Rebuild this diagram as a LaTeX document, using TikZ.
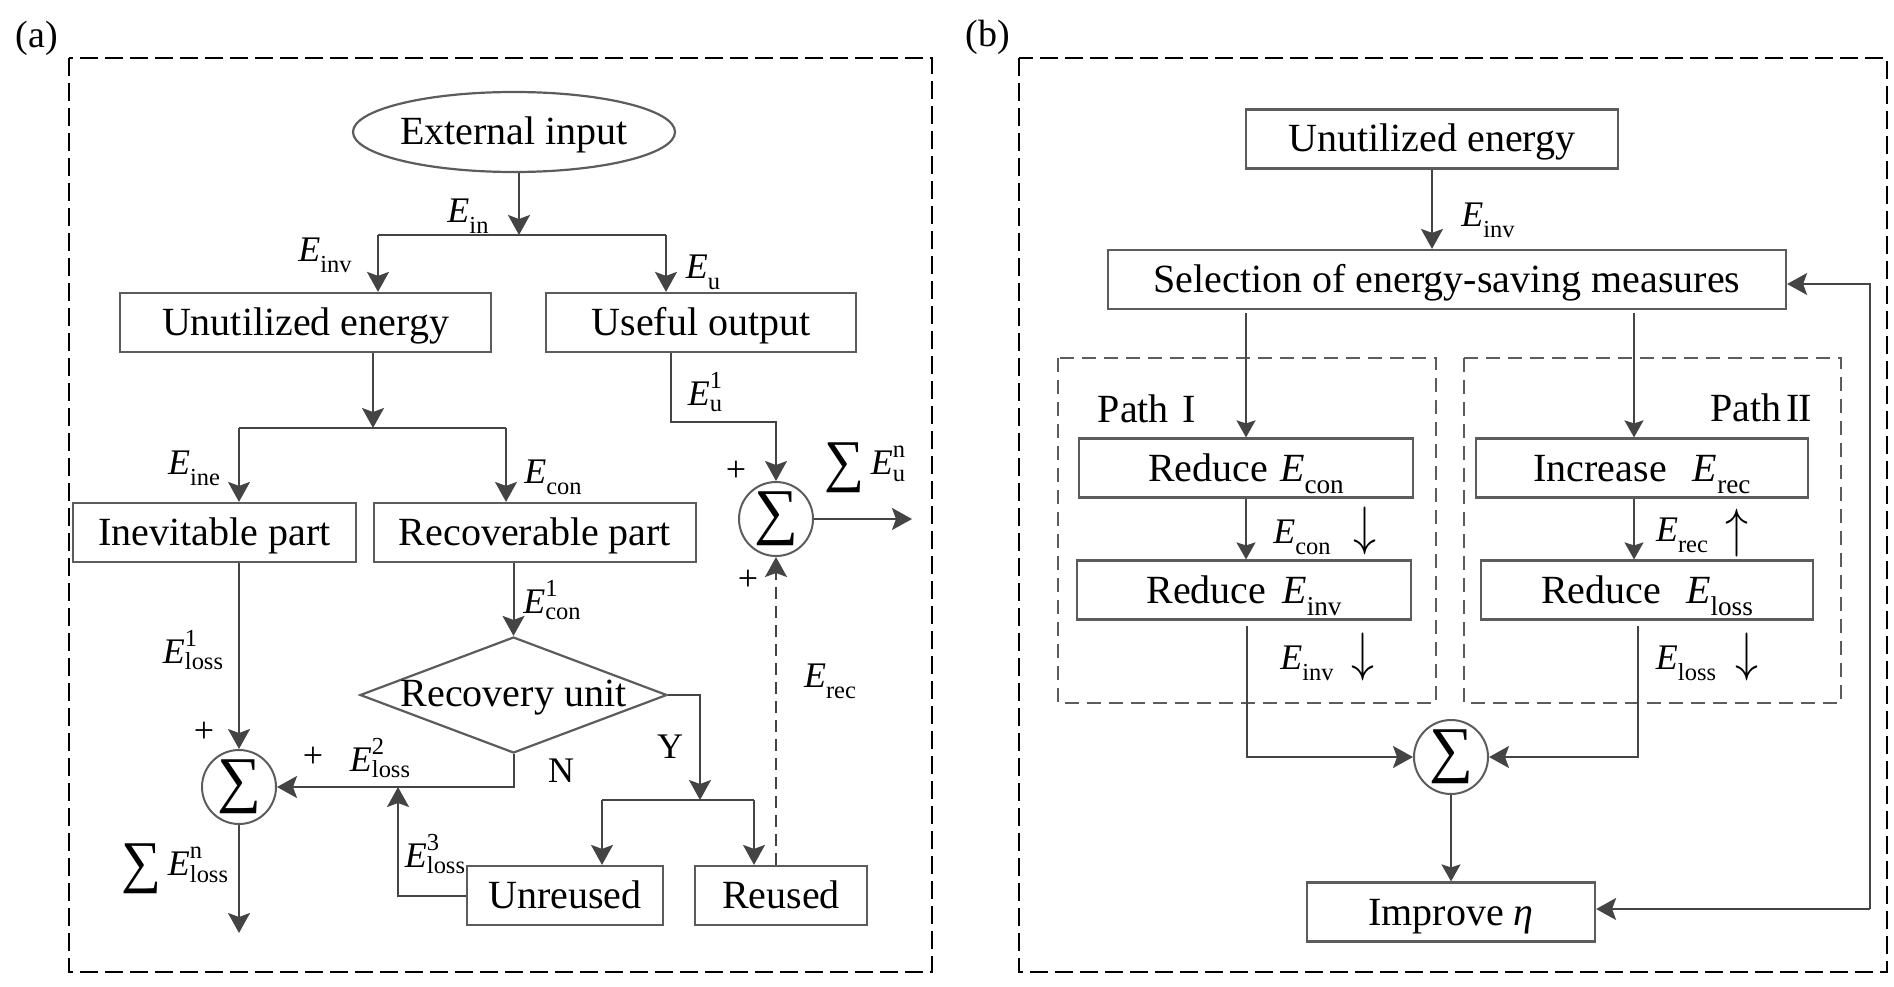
\documentclass[tikz,border=0pt]{standalone}
\usepackage{fontspec}
\setmainfont{Liberation Serif}
\usepackage{graphicx}
\usetikzlibrary{shapes.geometric,arrows.meta}

\definecolor{wirec}{HTML}{444444}
\definecolor{framec}{HTML}{5C5C5C}

\makeatletter
% script size: 0.68 of the current font size
\newcommand{\subsz}{\@tempdima=\f@size pt\@tempdima=0.68\@tempdima
  \fontsize{\strip@pt\@tempdima}{\strip@pt\@tempdima}\selectfont}
\makeatother
% E with a subscript, and E with a subscript and a superscript
\newcommand{\Es}[1]{\textit{E}\raisebox{-0.3em}{\subsz #1}}
\newcommand{\Ess}[2]{\textit{E}\rlap{\raisebox{0.48em}{\subsz #2}}\raisebox{-0.18em}{\subsz #1}}
% summation sign of a given width and total height
\newcommand{\bsum}[2]{\resizebox*{#1}{#2}{∑}}
\newcommand{\boxfont}{\fontsize{40}{46}\selectfont}
\newcommand{\labfont}{\fontsize{36}{40}\selectfont}
\newcommand{\darr}{\scalebox{4.6}[5.4]{\fontsize{10}{12}\selectfont$\downarrow$}}
\newcommand{\uarr}{\scalebox{4.6}[5.4]{\fontsize{10}{12}\selectfont$\uparrow$}}

\tikzset{
  box/.style={draw=framec, line width=2.2pt, rectangle, minimum height=59pt,
    inner sep=0pt, text height=30pt, text depth=4pt, font=\boxfont},
  oval/.style={ellipse, draw=framec, line width=2.2pt, minimum width=320pt,
    minimum height=80pt, inner sep=0pt, text height=30pt, text depth=4pt, font=\boxfont},
  decision/.style={diamond, draw=framec, line width=2.2pt, aspect=2.65,
    minimum width=307pt, minimum height=116pt, inner sep=0pt,
    text height=24pt, text depth=2pt, font=\boxfont},
  adder/.style={circle, draw=framec, line width=2pt, minimum size=74pt, inner sep=0pt},
  lab/.style={inner sep=0pt, font=\labfont},
  wire/.style={draw=wirec, line width=2pt},
  flow/.style={wire, -{Stealth[length=20pt,width=22pt,inset=4pt]}},
  flowsm/.style={wire, -{Stealth[length=17pt,width=19pt,inset=3pt]}},
  panel/.style={draw=black, line width=2.5pt, dash pattern=on 18pt off 7pt},
  pathbox/.style={draw=framec, line width=2pt, dash pattern=on 14pt off 8pt},
}

\begin{document}
\begin{tikzpicture}[x=1pt,y=-1pt]
\useasboundingbox (0,0) rectangle (1894,987);

% ---------------- panel (a): energy flow ----------------
\node[lab, font=\fontsize{38}{40}\selectfont] (la) at (37,38) {(a)};
\draw[panel] (69,58) rectangle (932,972);

\node[oval] (ext) at (514,132) {External input};
\node[box, minimum width=371pt] (ue) at (305.5,322.5) {Unutilized energy};
\node[box, minimum width=310pt] (uo) at (701,322.5) {Useful output};
\node[box, minimum width=283pt] (inev) at (214.5,532.5) {Inevitable part};
\node[box, minimum width=322pt] (recov) at (535,532.5) {Recoverable part};
\node[decision] (ru) at (513.5,695) {Recovery unit};
\node[adder] (sl) at (239,787) {\bsum{44pt}{54pt}};
\node[adder] (sr) at (776,519) {\bsum{44pt}{54pt}};
\node[box, minimum width=196pt] (unre) at (565,895.5) {Unreused};
\node[box, minimum width=172pt] (reus) at (781,895.5) {Reused};

% split of the input
\coordinate (s1) at (519,235);
\coordinate (s1l) at (378,235);
\coordinate (s1r) at (666,235);
\draw[flow] (ext.south -| s1) -- (s1);
\draw[wire] (s1l) -- (s1r);
\draw[flow] (s1l) -- (s1l |- ue.north);
\draw[flow] (s1r) -- (s1r |- uo.north);

% split of the unutilized energy
\coordinate (s2) at (373,428);
\coordinate (s2l) at (239,428);
\coordinate (s2r) at (506,428);
\draw[flow] (ue.south -| s2) -- (s2);
\draw[wire] (s2l) -- (s2r);
\draw[flow] (s2l) -- (s2l |- inev.north);
\draw[flow] (s2r) -- (s2r |- recov.north);

% useful output to the right adder
\coordinate (uok) at (671,422);
\draw[flow] (uo.south -| uok) -- (uok) -| (sr.north);
\coordinate (sout) at (912,519);
\draw[flow] (sr.east) -- (sout);
\draw[flow, dash pattern=on 12pt off 7pt] (reus.north -| sr) -- (sr.south);

% losses to the left adder
\draw[flow] (inev.south -| sl) -- (sl.north);
\coordinate (slout) at (239,933);
\draw[flow] (sl.south) -- (slout);
\draw[flow] (recov.south -| ru) -- (ru.north);
\draw[flow] (ru.south) |- (sl.east);

% recovery branch
\coordinate (yk) at (700,800);
\draw[flow] (ru.east) -| (yk);
\coordinate (s3l) at (602,800);
\coordinate (s3r) at (754,800);
\draw[wire] (s3l) -- (s3r);
\draw[flow] (s3l) -- (s3l |- unre.north);
\draw[flow] (s3r) -- (s3r |- reus.north);
\coordinate (l3) at (398,787);
\draw[flow] (unre.west) -| (l3);

% labels
\node[lab] (tEin) at (468,216) {\Es{in}};
\node[lab] (tEinv) at (325,255) {\Es{inv}};
\node[lab] (tEu) at (703,272) {\Es{u}};
\node[lab] (tEu1) at (705,392) {\Ess{u}{1}};
\node[lab] (tEine) at (194,468) {\Es{ine}};
\node[lab] (tEcon) at (553,477) {\Es{con}};
\node[lab] (tSu) at (865,468) {\raisebox{-6pt}{\bsum{40pt}{50pt}}\,\Ess{u}{n}};
\node[lab] (p1) at (736,471) {+};
\node[lab] (p2) at (748,580) {+};
\node[lab] (tEcon1) at (552,600) {\Ess{con}{1}};
\node[lab] (tEl1) at (193,650) {\Ess{loss}{1}};
\node[lab] (p3) at (204,732) {+};
\node[lab] (p4) at (313,757) {+};
\node[lab] (tEl2) at (380,758) {\Ess{loss}{2}};
\node[lab] (tN) at (561,771) {N};
\node[lab] (tY) at (670,747) {Y};
\node[lab] (tEl3) at (435,854) {\Ess{loss}{3}};
\node[lab] (tSl) at (175,869) {\raisebox{-6pt}{\bsum{40pt}{50pt}}\,\Ess{loss}{n}};
\node[lab] (tErec) at (830,681) {\Es{rec}};

% ---------------- panel (b): saving measures ----------------
\node[lab, font=\fontsize{38}{40}\selectfont] (lb) at (988,37) {(b)};
\draw[panel] (1019,58) rectangle (1887,972);

\node[box, minimum width=372pt] (ue2) at (1432,139) {Unutilized energy};
\node[box, minimum width=678pt] (sel) at (1447,279.5) {Selection of energy-saving measures};
\draw[pathbox] (1058,358) rectangle (1436,703);
\draw[pathbox] (1464,358) rectangle (1841,703);
\node[lab, font=\boxfont] (pI) at (1147,409) {Path\hspace{14pt}I};
\node[lab, font=\boxfont] (pII) at (1761,408) {Path\hspace{5pt}I\kern-1pt I};

\node[box, minimum width=334pt] (rc) at (1246,468) {Reduce\hspace{12pt}\Es{con}};
\node[box, minimum width=332pt] (ir) at (1642,468) {Increase\hspace{26pt}\Es{rec}};
\node[box, minimum width=334pt] (ri) at (1244,590) {Reduce\hspace{16pt}\Es{inv}};
\node[box, minimum width=332pt] (rl) at (1647,590) {Reduce\hspace{25pt}\Es{loss}};
\node[adder] (sum2) at (1451,757) {\bsum{44pt}{54pt}};
\node[box, minimum width=288pt] (imp) at (1451,912) {Improve \textit{η}};

\draw[flow] (ue2.south) -- (ue2.south |- sel.north);
\coordinate (a1) at (1246,313);
\coordinate (a2) at (1634,313);
\draw[flowsm] (a1) -- (a1 |- rc.north);
\draw[flowsm] (a2) -- (a2 |- ir.north);
\draw[flowsm] (rc.south -| a1) -- (a1 |- ri.north);
\draw[flowsm] (ir.south -| a2) -- (a2 |- rl.north);
\coordinate (b1) at (1247,626);
\coordinate (b2) at (1638,626);
\draw[flow] (b1) |- (sum2.west);
\draw[flow] (b2) |- (sum2.east);
\draw[flowsm] (sum2.south) -- (imp.north);

% feedback from the result to the selection
\coordinate (fbt) at (1870,284);
\coordinate (fbb) at (1870,909);
\draw[flow] (fbb) -- (fbt) -- (sel.east |- fbt);
\draw[flow] (fbb) -- (imp.east |- fbb);

\node[lab] (tEinv2) at (1488,220) {\Es{inv}};
\node[lab] (tEc) at (1302,537) {\Es{con}};
\node[lab] (dn1) at (1365,531) {\darr};
\node[lab] (tEr) at (1682,535) {\Es{rec}};
\node[lab] (up1) at (1737,533) {\uarr};
\node[lab] (tEi) at (1307,663) {\Es{inv}};
\node[lab] (dn2) at (1363,657) {\darr};
\node[lab] (tEl) at (1686,663) {\Es{loss}};
\node[lab] (dn3) at (1747,657) {\darr};
\end{tikzpicture}
\end{document}
